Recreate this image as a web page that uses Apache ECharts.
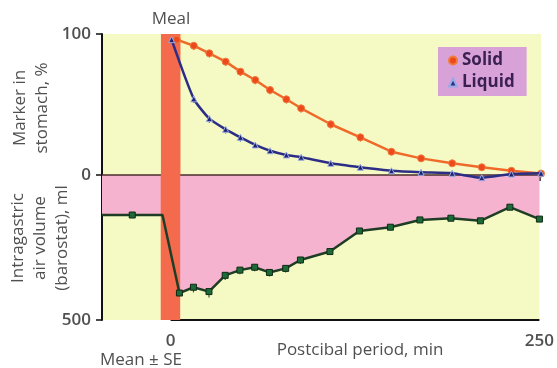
<!DOCTYPE html>
<html>
<head>
<meta charset="utf-8">
<script src="https://cdn.jsdelivr.net/npm/echarts@6/dist/echarts.min.js"></script>
<style>
  html, body { margin: 0; padding: 0; background: #ffffff; }
  #chart { width: 557px; height: 368px; }
</style>
</head>
<body>
<div id="chart"></div>
<script>
// Time axis (minutes after the meal) and the meal window
const xMin = -46.5;
const xMax = 250;
const mealWindow = [-6.7, 6.5];

// Shared postprandial sampling times, min
const postTimes = [15.5, 26, 37, 47, 57, 67, 78, 88, 108, 128, 149, 169, 190, 210, 230, 250];

// Marker remaining in stomach, %
const solidStart = [4, 96];
const solidPct = [91.7, 86.3, 80.4, 73.3, 67.4, 60.3, 53.7, 47.3, 36, 26.7, 16.5, 11.8, 8.3, 5.5, 3, 1];
const solidSE = [3, 3, 3, 3, 3, 3, 3, 3, 3, 3, 2, 2, 2, 1, 1, 1];

const liquidStart = [0.5, 96];
const liquidPct = [54, 40, 32.4, 26.7, 21.3, 17.2, 14.2, 12.6, 8.3, 5.5, 3, 1.9, 1.2, -1.9, 0.7, 1.2];
const liquidSE = [3, 3, 3, 3, 2, 2, 2, 2, 1, 1, 1, 1, 1, 1, 1, 1];

// Intragastric air volume (barostat), ml
const fastingTimes = [xMin, -26, -5.5];
const fastingMl = [138, 138, 138];
const firstPostMeal = [6, 407];
const airMl = [387, 402, 346, 328, 318, 336, 322, 293, 264, 193, 180, 155, 149, 158, 111, 152];
const airSE = [18, 20, 16, 14, 14, 14, 14, 14, 12, 10, 10, 8, 8, 8, 8, 8];

// Axis ticks
const pctTicks = [0, 100];
const mlTicks = [0, 500];
const timeTicks = [0, 250];

const YELLOW = '#f5fac5';
const PINK = '#f6b3cf';
const MEAL = '#f36a4c';
const TEXT = '#505050';
const FONT = '"Open Sans", "Noto Sans", sans-serif';
const FS = 17;

const solidData = [solidStart].concat(postTimes.map((t, i) => [t, solidPct[i]]));
const liquidData = [liquidStart].concat(postTimes.map((t, i) => [t, liquidPct[i]]));
const airData = fastingTimes.map((t, i) => ({ value: [t, fastingMl[i]], symbol: i === 1 ? 'rect' : 'none' }))
  .concat([{ value: firstPostMeal }])
  .concat(postTimes.map((t, i) => ({ value: [t, airMl[i]] })));

const solidErr = postTimes.map((t, i) => [t, solidPct[i], -solidSE[i]]);
const liquidErr = postTimes.map((t, i) => [t, liquidPct[i], -liquidSE[i]]);
const airErr = postTimes.map((t, i) => [t, airMl[i], airSE[i]]);

function errorBar(color) {
  return function (params, api) {
    const x = api.value(0), y = api.value(1), d = api.value(2);
    const p1 = api.coord([x, y]);
    const p2 = api.coord([x, y + d]);
    return {
      type: 'line',
      shape: { x1: p1[0], y1: p1[1], x2: p2[0], y2: p2[1] },
      style: { stroke: color, lineWidth: 1.2 }
    };
  };
}

function mealBar(yTop, yBottom) {
  return function (params, api) {
    const a = api.coord([api.value(0), yTop]);
    const b = api.coord([api.value(1), yBottom]);
    return {
      type: 'rect',
      shape: { x: a[0], y: a[1], width: b[0] - a[0], height: b[1] - a[1] },
      style: { fill: MEAL }
    };
  };
}

const chart = echarts.init(document.getElementById('chart'), null, { renderer: 'canvas' });

chart.setOption({
  animation: false,
  textStyle: { fontFamily: FONT },
  grid: [
    { left: 102, top: 34, width: 439, height: 141, show: true, backgroundColor: YELLOW, borderWidth: 0 },
    { left: 102, top: 175, width: 439, height: 145, show: true, backgroundColor: YELLOW, borderWidth: 0 }
  ],
  xAxis: [
    { gridIndex: 0, type: 'value', min: xMin, max: xMax, show: false },
    {
      gridIndex: 1, type: 'value', min: xMin, max: xMax,
      axisLine: { show: false },
      splitLine: { show: false },
      axisTick: { show: true, customValues: timeTicks, length: 6, lineStyle: { color: '#1a1a1a', width: 1.5 } },
      axisLabel: { show: true, customValues: timeTicks, margin: 13, fontSize: FS, fontWeight: 600, color: TEXT, fontFamily: FONT }
    }
  ],
  yAxis: [
    {
      gridIndex: 0, type: 'value', min: 0, max: 100, interval: 100,
      splitLine: { show: false },
      axisLine: { show: true, onZero: false, lineStyle: { color: '#111', width: 2 } },
      axisTick: { show: true, customValues: pctTicks, length: 6, lineStyle: { color: '#111', width: 1.5 } },
      axisLabel: { customValues: pctTicks, margin: 11, fontSize: FS, fontWeight: 600, color: TEXT, fontFamily: FONT }
    },
    {
      gridIndex: 1, type: 'value', min: 0, max: 500, interval: 500, inverse: true,
      splitLine: { show: false },
      axisLine: { show: true, onZero: false, lineStyle: { color: '#111', width: 2 } },
      axisTick: { show: true, customValues: mlTicks, length: 6, lineStyle: { color: '#111', width: 1.5 } },
      axisLabel: {
        customValues: mlTicks, margin: 11, fontSize: FS, fontWeight: 600, color: TEXT, fontFamily: FONT,
        formatter: v => (v === 0 ? '' : String(v))
      }
    }
  ],
  legend: {
    left: 438, top: 47,
    orient: 'vertical',
    backgroundColor: '#d8a2d8',
    padding: [5, 12, 5, 10],
    itemGap: 5,
    itemWidth: 8, itemHeight: 8,
    textStyle: { color: '#3a1f52', fontSize: FS, fontWeight: 'bold', fontFamily: FONT },
    data: [
      { name: 'Solid', icon: 'circle', itemStyle: { color: '#ec4a1c' } },
      { name: 'Liquid', icon: 'triangle', itemStyle: { color: '#2a2f86' } }
    ]
  },
  graphic: [
    { type: 'text', x: 171, y: 19, style: { text: 'Meal', font: FS + 'px ' + FONT, fill: TEXT, align: 'center', verticalAlign: 'middle' } },
    { type: 'text', x: 31, y: 108, rotation: Math.PI / 2, style: { text: 'Marker in\nstomach, %', font: FS + 'px ' + FONT, lineHeight: 22, fill: TEXT, align: 'center', verticalAlign: 'middle' } },
    { type: 'text', x: 40, y: 238, rotation: Math.PI / 2, style: { text: 'Intragastric\nair volume\n(barostat), ml', font: FS + 'px ' + FONT, lineHeight: 22, fill: TEXT, align: 'center', verticalAlign: 'middle' } },
    { type: 'text', x: 141, y: 360, style: { text: 'Mean \u00b1 SE', font: FS + 'px ' + FONT, fill: TEXT, align: 'center', verticalAlign: 'middle' } },
    { type: 'text', x: 360, y: 350, style: { text: 'Postcibal period, min', font: FS + 'px ' + FONT, fill: TEXT, align: 'center', verticalAlign: 'middle' } }
  ],
  series: [
    // pink fill between the zero level and the air-volume curve
    {
      type: 'line', xAxisIndex: 1, yAxisIndex: 1, z: 1, silent: true,
      data: airData.map(d => d.value), symbol: 'none',
      lineStyle: { width: 0 },
      areaStyle: { color: PINK, opacity: 1, origin: 'start' }
    },
    // zero line between the two panels
    {
      type: 'line', xAxisIndex: 1, yAxisIndex: 1, z: 2, silent: true, clip: false,
      data: [[xMin, 0], [xMax, 0]], symbol: 'none',
      lineStyle: { color: '#4a2c2c', width: 1.5 }
    },
    // time axis baseline
    {
      type: 'line', xAxisIndex: 1, yAxisIndex: 1, z: 2, silent: true, clip: false,
      data: [[timeTicks[0], mlTicks[1]], [timeTicks[1], mlTicks[1]]], symbol: 'none',
      lineStyle: { color: '#111', width: 2 }
    },
    // meal window
    {
      type: 'custom', xAxisIndex: 0, yAxisIndex: 0, z: 3, silent: true, clip: false,
      data: [mealWindow], renderItem: mealBar(100, 0)
    },
    {
      type: 'custom', xAxisIndex: 1, yAxisIndex: 1, z: 3, silent: true, clip: false,
      data: [mealWindow], renderItem: mealBar(0, 500)
    },
    // error bars
    { type: 'custom', xAxisIndex: 0, yAxisIndex: 0, z: 4, silent: true, clip: false, data: solidErr, renderItem: errorBar('#d8602a') },
    { type: 'custom', xAxisIndex: 0, yAxisIndex: 0, z: 4, silent: true, clip: false, data: liquidErr, renderItem: errorBar('#4a56a8') },
    { type: 'custom', xAxisIndex: 1, yAxisIndex: 1, z: 4, silent: true, clip: false, data: airErr, renderItem: errorBar('#3c5a3c') },
    // curves
    {
      name: 'Solid', type: 'line', xAxisIndex: 0, yAxisIndex: 0, z: 5, clip: false,
      data: solidData, symbol: 'circle', symbolSize: 7,
      lineStyle: { color: '#ef6a2a', width: 2.5 },
      itemStyle: { color: '#ec4a1c', borderColor: '#f27a3a', borderWidth: 1 }
    },
    {
      name: 'Liquid', type: 'line', xAxisIndex: 0, yAxisIndex: 0, z: 6, clip: false,
      data: liquidData, symbol: 'triangle', symbolSize: 6, smooth: 0.2,
      lineStyle: { color: '#2c2e86', width: 2.5 },
      itemStyle: { color: '#1e2470', borderColor: '#9aaae6', borderWidth: 1 }
    },
    {
      name: 'Air volume', type: 'line', xAxisIndex: 1, yAxisIndex: 1, z: 5, clip: false,
      data: airData, symbol: 'rect', symbolSize: 6,
      lineStyle: { color: '#1f3d25', width: 2.5 },
      itemStyle: { color: '#1c6a36', borderColor: '#0f2a16', borderWidth: 1 }
    }
  ]
});
</script>
</body>
</html>
